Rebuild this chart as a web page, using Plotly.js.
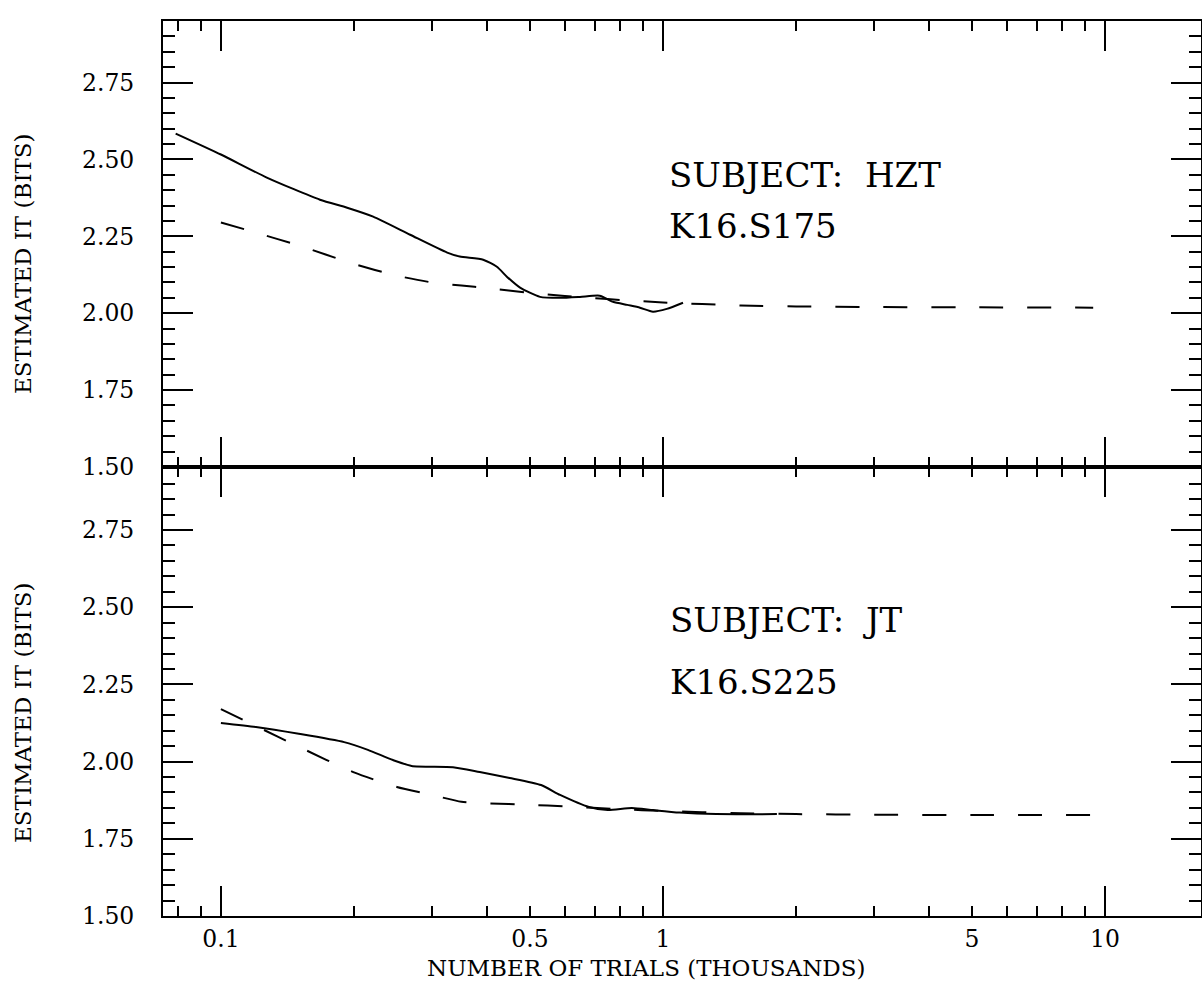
<!DOCTYPE html>
<html>
<head>
<meta charset="utf-8">
<script src="https://cdn.plot.ly/plotly-3.0.1.min.js"></script>
<style>html,body{margin:0;padding:0;background:#fff;}#chart{width:1202px;height:988px;}</style>
</head>
<body>
<div id="chart"></div>
<script>
// ---- Data (thousands of trials vs estimated IT in bits) ----
// Subject HZT (top panel)
const hztSolidX = [0.079, 0.1, 0.127, 0.1675, 0.193, 0.221, 0.268, 0.325, 0.347, 0.392, 0.421, 0.444, 0.475, 0.527, 0.585, 0.649, 0.719, 0.771, 0.83, 0.887, 0.949, 1.02, 1.11];
const hztSolidY = [2.584, 2.516, 2.441, 2.369, 2.343, 2.314, 2.255, 2.197, 2.184, 2.174, 2.151, 2.118, 2.083, 2.053, 2.050, 2.053, 2.057, 2.037, 2.027, 2.018, 2.005, 2.014, 2.034];
const hztDashX = [0.1, 0.12, 0.15, 0.2, 0.25, 0.3, 0.35, 0.4, 0.5, 0.6, 0.7, 0.8, 1, 1.5, 2, 3, 5, 9.4];
const hztDashY = [2.295, 2.262, 2.220, 2.160, 2.122, 2.100, 2.090, 2.082, 2.066, 2.056, 2.049, 2.043, 2.035, 2.025, 2.022, 2.020, 2.019, 2.018];
// Subject JT (bottom panel)
const jtSolidX = [0.1, 0.12, 0.15, 0.19, 0.215, 0.245, 0.27, 0.335, 0.385, 0.45, 0.53, 0.585, 0.68, 0.75, 0.85, 0.95, 1.09, 1.32, 1.81];
const jtSolidY = [2.125, 2.112, 2.090, 2.063, 2.038, 2.005, 1.986, 1.982, 1.966, 1.947, 1.924, 1.892, 1.853, 1.843, 1.850, 1.843, 1.835, 1.830, 1.830];
const jtDashX = [0.1, 0.12, 0.15, 0.2, 0.25, 0.3, 0.35, 0.4, 0.5, 0.6, 0.8, 1, 1.5, 2, 3, 5, 9.5];
const jtDashY = [2.17, 2.115, 2.048, 1.965, 1.918, 1.892, 1.870, 1.865, 1.860, 1.855, 1.846, 1.840, 1.833, 1.830, 1.828, 1.827, 1.827];

// ---- Tick labels / values ----
const xMajorVals = [0.1, 1, 10];
const xMajorText = ['0.1', '1', '10'];
const xExtraLabelVals = [0.5, 5];
const xExtraLabelText = ['0.5', '5'];
const xMinorVals = [0.08, 0.09, 0.2, 0.3, 0.4, 0.5, 0.6, 0.7, 0.8, 0.9, 2, 3, 4, 5, 6, 7, 8, 9];
const yTickVals = [1.5, 1.75, 2.0, 2.25, 2.5, 2.75];
const yTickText = ['1.50', '1.75', '2.00', '2.25', '2.50', '2.75'];
const panelLabels = [['SUBJECT:\u00a0 HZT', 'K16.S175'], ['SUBJECT:\u00a0 JT', 'K16.S225']];
const yTitle = 'ESTIMATED IT (BITS)';
const xTitle = 'NUMBER OF TRIALS (THOUSANDS)';

const FONT = 'DejaVu Serif';
const xr = [-1.131, 1.217];
const split = 0.5017;

const solidLine = {color: 'black', width: 2, shape: 'spline', smoothing: 0.6};
const dashLine = {color: 'black', width: 2, dash: '24px,24px', shape: 'spline', smoothing: 0.6};

const traces = [
  {x: hztSolidX, y: hztSolidY, xaxis: 'x2', yaxis: 'y2', mode: 'lines', line: solidLine, name: 'HZT observed'},
  {x: hztDashX, y: hztDashY, xaxis: 'x2', yaxis: 'y2', mode: 'lines', line: dashLine, name: 'HZT fit'},
  {x: jtSolidX, y: jtSolidY, xaxis: 'x', yaxis: 'y', mode: 'lines', line: solidLine, name: 'JT observed'},
  {x: jtDashX, y: jtDashY, xaxis: 'x3', yaxis: 'y', mode: 'lines', line: dashLine, name: 'JT fit'}
];

const tickFont = {family: FONT, size: 23.5, color: 'black'};
function xAxisBase(extra) {
  return Object.assign({
    type: 'log', range: xr, showgrid: false, zeroline: false,
    showline: true, linecolor: 'black', linewidth: 2,
    ticks: 'inside', ticklen: 30, tickwidth: 2, tickcolor: 'black',
    tickmode: 'array', tickvals: xMajorVals, ticktext: xMajorText,
    minor: {tickmode: 'array', tickvals: xMinorVals, ticks: 'inside', ticklen: 10, tickwidth: 2, tickcolor: 'black', showgrid: false},
    mirror: 'ticks', tickfont: tickFont, ticklabelstandoff: 1
  }, extra);
}
function yAxisBase(extra) {
  return Object.assign({
    showgrid: false, zeroline: false,
    showline: true, linecolor: 'black', linewidth: 2,
    ticks: 'inside', ticklen: 30, tickwidth: 2, tickcolor: 'black',
    tickmode: 'array', tickvals: yTickVals, ticktext: yTickText,
    minor: {dtick: 0.05, tick0: 1.5, ticks: 'inside', ticklen: 12, tickwidth: 2, tickcolor: 'black', showgrid: false},
    mirror: 'ticks', tickfont: tickFont, ticklabelstandoff: 22
  }, extra);
}

const layout = {
  width: 1202, height: 988,
  margin: {l: 163, r: 1, t: 21, b: 72, pad: 0},
  paper_bgcolor: 'white', plot_bgcolor: 'white',
  showlegend: false,
  font: {family: FONT, color: 'black'},
  xaxis: xAxisBase({anchor: 'y', domain: [0, 1]}),
  xaxis2: xAxisBase({anchor: 'y2', domain: [0, 1], showticklabels: false}),
  xaxis3: {type: 'log', range: xr, overlaying: 'x', anchor: 'y', side: 'bottom', showgrid: false, zeroline: false,
           showline: true, linecolor: 'black', linewidth: 2,
           ticks: 'inside', ticklen: 10, tickwidth: 2, tickcolor: 'black',
           tickmode: 'array', tickvals: xExtraLabelVals, ticktext: xExtraLabelText,
           tickfont: tickFont, ticklabelstandoff: 1},
  yaxis: yAxisBase({anchor: 'x', domain: [0, split], range: [1.5, 2.954]}),
  yaxis2: yAxisBase({anchor: 'x2', domain: [split, 1], range: [1.5, 2.95]}),
  annotations: [
    {text: panelLabels[0][0], xref: 'paper', yref: 'paper', x: 0.4855, y: 0.8274, xanchor: 'left', yanchor: 'middle', showarrow: false, font: {family: FONT, size: 34, color: 'black'}},
    {text: panelLabels[0][1], xref: 'paper', yref: 'paper', x: 0.4855, y: 0.7704, xanchor: 'left', yanchor: 'middle', showarrow: false, font: {family: FONT, size: 34, color: 'black'}},
    {text: panelLabels[1][0], xref: 'paper', yref: 'paper', x: 0.4865, y: 0.3307, xanchor: 'left', yanchor: 'middle', showarrow: false, font: {family: FONT, size: 34, color: 'black'}},
    {text: panelLabels[1][1], xref: 'paper', yref: 'paper', x: 0.4865, y: 0.2609, xanchor: 'left', yanchor: 'middle', showarrow: false, font: {family: FONT, size: 34, color: 'black'}},
    {text: yTitle, xref: 'paper', yref: 'paper', x: -0.1349, y: 0.7296, xanchor: 'center', yanchor: 'middle', textangle: -90, showarrow: false, font: {family: FONT, size: 23, color: 'black'}},
    {text: yTitle, xref: 'paper', yref: 'paper', x: -0.1349, y: 0.2279, xanchor: 'center', yanchor: 'middle', textangle: -90, showarrow: false, font: {family: FONT, size: 23, color: 'black'}},
    {text: xTitle, xref: 'paper', yref: 'paper', x: 0.4653, y: -0.0585, xanchor: 'center', yanchor: 'middle', showarrow: false, font: {family: FONT, size: 23, color: 'black'}}
  ]
};

Plotly.newPlot('chart', traces, layout, {staticPlot: true, displayModeBar: false});
</script>
</body>
</html>
